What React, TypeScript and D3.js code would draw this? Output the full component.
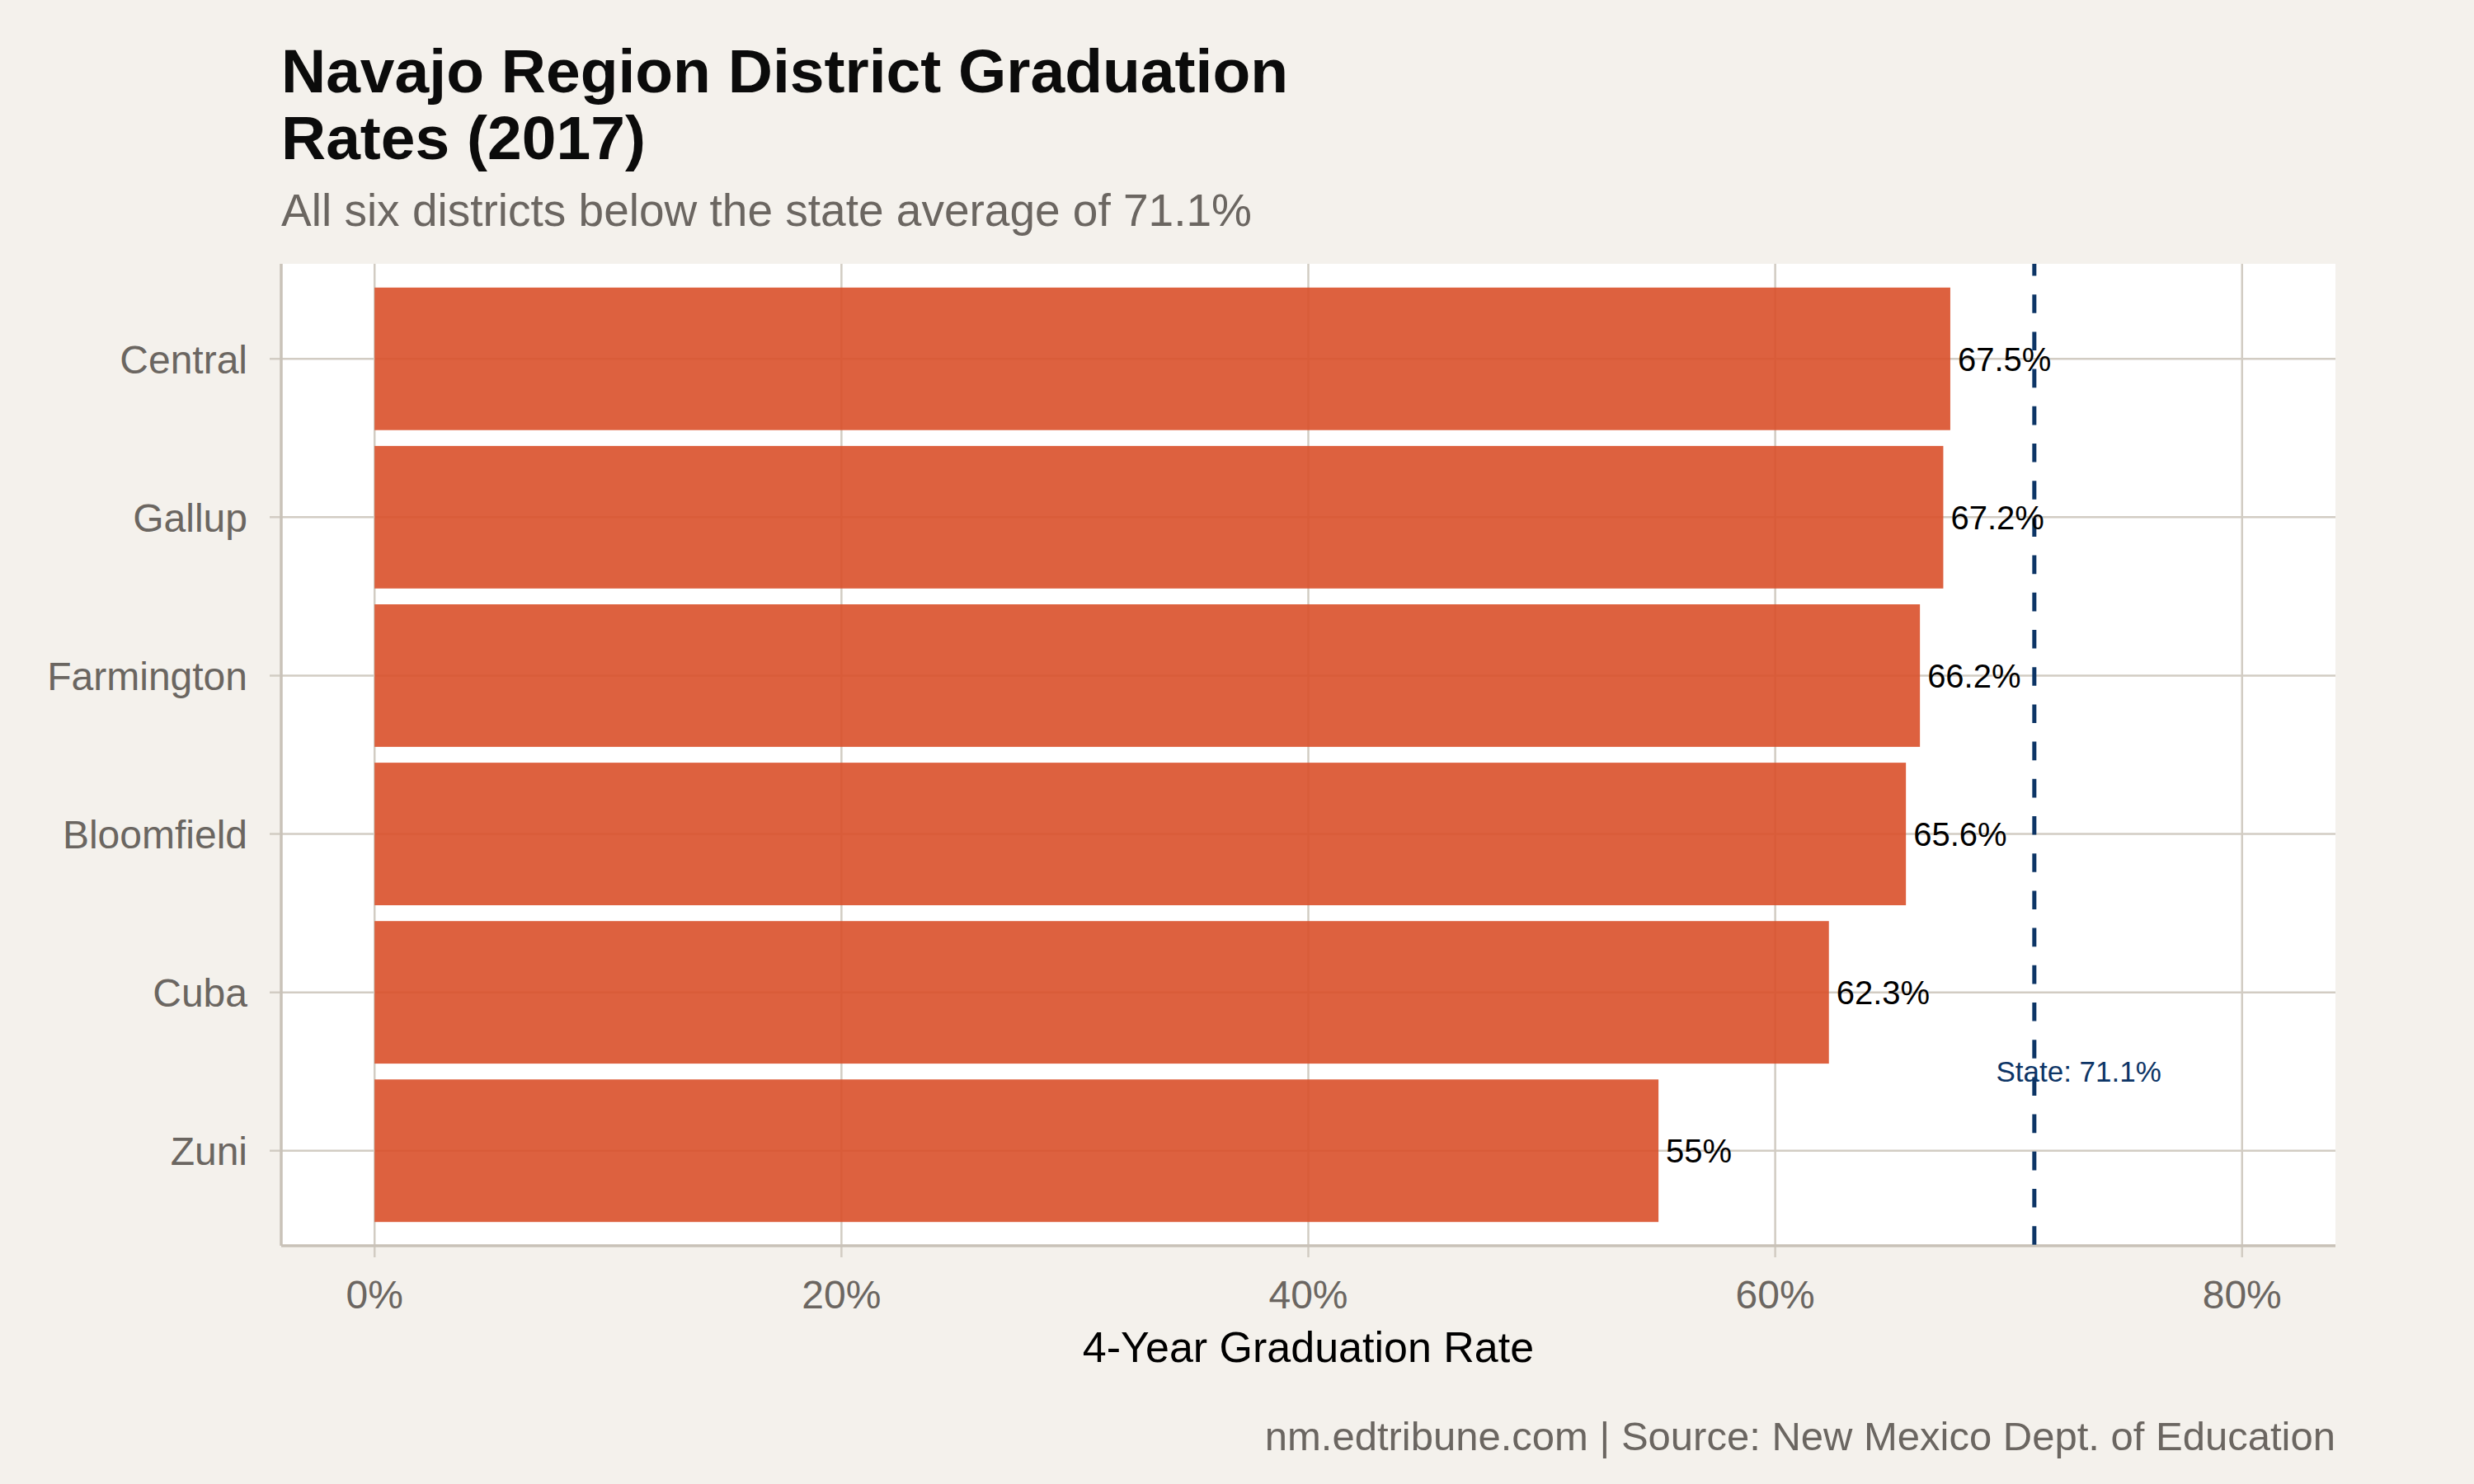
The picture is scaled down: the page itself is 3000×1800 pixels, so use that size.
import { useEffect, useRef } from 'react'
import * as d3 from 'd3'

const districts = ['Central', 'Gallup', 'Farmington', 'Bloomfield', 'Cuba', 'Zuni']
const gradRates = [67.5, 67.2, 66.2, 65.6, 62.3, 55]
const xTicks = [0, 20, 40, 60, 80]
const stateAvg = 71.1

const W = 3000
const H = 1800
const FONT = '"Liberation Sans", Arial, Helvetica, sans-serif'

export default function App() {
  const ref = useRef<SVGSVGElement>(null)

  useEffect(() => {
    if (!ref.current) return
    const svg = d3.select(ref.current)
    svg.selectAll('*').remove()

    const panel = { left: 341, right: 2832, top: 320, bottom: 1511 }
    const gridColor = '#d2ccc3'
    const axisColor = '#c9c2b8'
    const muted = '#6b6661'

    // ggplot-style 5% expansion around 0..80
    const x = d3.scaleLinear().domain([-4, 84]).range([panel.left, panel.right])
    const y = d3.scaleBand<string>()
      .domain(districts)
      .range([panel.top, panel.bottom])
      .paddingInner(0.1)
      .paddingOuter(0.15)

    svg.append('rect')
      .attr('width', W).attr('height', H)
      .attr('fill', '#f4f1ec')

    svg.append('rect')
      .attr('x', panel.left).attr('y', panel.top)
      .attr('width', panel.right - panel.left)
      .attr('height', panel.bottom - panel.top)
      .attr('fill', '#ffffff')

    // grid
    const g = svg.append('g')
    g.selectAll('line.vgrid').data(xTicks).join('line')
      .attr('x1', d => x(d)).attr('x2', d => x(d))
      .attr('y1', panel.top).attr('y2', panel.bottom + 14)
      .attr('stroke', gridColor).attr('stroke-width', 2.5)
    g.selectAll('line.hgrid').data(districts).join('line')
      .attr('x1', panel.left - 14).attr('x2', panel.right)
      .attr('y1', d => y(d)! + y.bandwidth() / 2)
      .attr('y2', d => y(d)! + y.bandwidth() / 2)
      .attr('stroke', gridColor).attr('stroke-width', 2.5)

    // axis lines
    svg.append('line')
      .attr('x1', panel.left).attr('x2', panel.left)
      .attr('y1', panel.top).attr('y2', panel.bottom)
      .attr('stroke', axisColor).attr('stroke-width', 3.5)
    svg.append('line')
      .attr('x1', panel.left).attr('x2', panel.right)
      .attr('y1', panel.bottom).attr('y2', panel.bottom)
      .attr('stroke', axisColor).attr('stroke-width', 3.5)

    // bars
    svg.append('g').selectAll('rect').data(districts).join('rect')
      .attr('x', x(0))
      .attr('y', d => y(d)!)
      .attr('width', (_, i) => x(gradRates[i]) - x(0))
      .attr('height', y.bandwidth())
      .attr('fill', '#d9502a')
      .attr('fill-opacity', 0.9)

    // state average reference
    svg.append('line')
      .attr('x1', x(stateAvg)).attr('x2', x(stateAvg))
      .attr('y1', panel.top).attr('y2', panel.bottom)
      .attr('stroke', '#0d3566').attr('stroke-width', 5)
      .attr('stroke-dasharray', '22.6 22.6')
      .attr('stroke-dashoffset', 8)

    // value labels
    svg.append('g').selectAll('text').data(districts).join('text')
      .attr('x', (_, i) => x(gradRates[i]) + 9)
      .attr('y', d => y(d)! + y.bandwidth() / 2)
      .attr('dy', '0.36em')
      .attr('font-family', FONT).attr('font-size', 40)
      .attr('fill', '#000')
      .text((_, i) => `${gradRates[i]}%`)

    svg.append('text')
      .attr('x', x(73))
      .attr('y', (y('Cuba')! + y('Zuni')! + y.bandwidth()) / 2)
      .attr('dy', '0.36em')
      .attr('text-anchor', 'middle')
      .attr('font-family', FONT).attr('font-size', 35)
      .attr('fill', '#0d3566')
      .text(`State: ${stateAvg}%`)

    // axis labels
    svg.append('g').selectAll('text').data(districts).join('text')
      .attr('x', panel.left - 41)
      .attr('y', d => y(d)! + y.bandwidth() / 2)
      .attr('dy', '0.36em')
      .attr('text-anchor', 'end')
      .attr('font-family', FONT).attr('font-size', 48)
      .attr('fill', muted)
      .text(d => d)

    svg.append('g').selectAll('text').data(xTicks).join('text')
      .attr('x', d => x(d))
      .attr('y', 1587)
      .attr('text-anchor', 'middle')
      .attr('font-family', FONT).attr('font-size', 48)
      .attr('fill', muted)
      .text(d => `${d}%`)

    svg.append('text')
      .attr('x', (panel.left + panel.right) / 2)
      .attr('y', 1652)
      .attr('text-anchor', 'middle')
      .attr('font-family', FONT).attr('font-size', 52)
      .attr('fill', '#000')
      .text('4-Year Graduation Rate')

    // titles
    const title = svg.append('text')
      .attr('font-family', FONT).attr('font-size', 75)
      .attr('font-weight', 'bold').attr('fill', '#0b0b0b')
    title.append('tspan').attr('x', panel.left).attr('y', 112)
      .text('Navajo Region District Graduation')
    title.append('tspan').attr('x', panel.left).attr('y', 193)
      .text('Rates (2017)')

    svg.append('text')
      .attr('x', panel.left).attr('y', 274)
      .attr('font-family', FONT).attr('font-size', 55)
      .attr('fill', muted)
      .text(`All six districts below the state average of ${stateAvg}%`)

    svg.append('text')
      .attr('x', panel.right).attr('y', 1759)
      .attr('text-anchor', 'end')
      .attr('font-family', FONT).attr('font-size', 49)
      .attr('fill', muted)
      .text('nm.edtribune.com | Source: New Mexico Dept. of Education')
  }, [])

  return (
    <svg
      ref={ref}
      width={W}
      height={H}
      style={{ display: 'block', position: 'absolute', left: 0, top: 0 }}
    />
  )
}
